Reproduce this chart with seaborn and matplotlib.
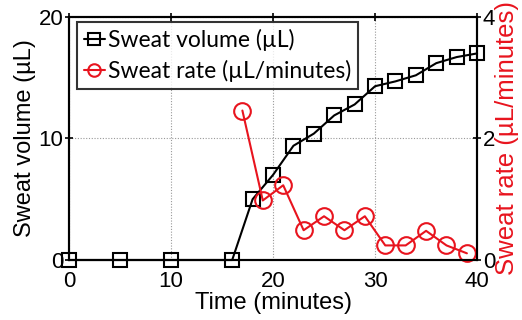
import matplotlib
matplotlib.use("Agg")
import matplotlib.pyplot as plt
import seaborn as sns
import pandas as pd

vol_time = [0, 5, 10, 16, 18, 20, 22, 24, 26, 28, 30, 32, 34, 36, 38, 40]
vol_vals = [0, 0, 0, 0, 5.0, 7.0, 9.4, 10.4, 11.9, 12.8, 14.3, 14.7, 15.2, 16.2, 16.7, 17.0]
rate_time = [17, 19, 21, 23, 25, 27, 29, 31, 33, 35, 37, 39]
rate_vals = [2.46, 0.98, 1.23, 0.49, 0.72, 0.49, 0.72, 0.24, 0.24, 0.48, 0.24, 0.11]

sns.set_style("white")
plt.rcParams['font.family'] = ['Liberation Sans', 'DejaVu Sans']
plt.rcParams['text.color'] = 'black'
plt.rcParams['axes.labelcolor'] = 'black'
plt.rcParams['xtick.color'] = 'black'
plt.rcParams['ytick.color'] = 'black'

fig = plt.figure(figsize=(5.22, 3.2), dpi=100)
ax = fig.add_axes([0.132, 0.1875, 0.782, 0.7595])
ax2 = ax.twinx()

dv = pd.DataFrame({"t": vol_time, "v": vol_vals})
dr = pd.DataFrame({"t": rate_time, "r": rate_vals})

red = "#e8141e"
sns.lineplot(data=dv, x="t", y="v", ax=ax, color="black", marker="s", markersize=10,
             markerfacecolor="none", markeredgecolor="black", markeredgewidth=1.5,
             linewidth=1.5, clip_on=False, label="Sweat volume (µL)", legend=False, zorder=5)
sns.lineplot(data=dr, x="t", y="r", ax=ax2, color=red, marker="o", markersize=12,
             markerfacecolor="none", markeredgecolor=red, markeredgewidth=1.5,
             linewidth=1.5, clip_on=False, label="Sweat rate (µL/minutes)", legend=False)

ax.set_xlim(0, 40)
ax.set_ylim(0, 20)
ax2.set_ylim(0, 4)
ax.set_xticks([0, 10, 20, 30, 40])
ax.set_yticks([0, 10, 20])
ax2.set_yticks([0, 2, 4])

ax.grid(True, linestyle=(0, (1, 1.5)), color="#999999", linewidth=0.8)
ax2.grid(False)

for a in (ax, ax2):
    for s in a.spines.values():
        s.set_color("black")
        s.set_linewidth(1.5)
ax.tick_params(axis="y", direction="inout", length=6, width=1.2, labelsize=16, pad=1)
ax.tick_params(axis="x", direction="inout", length=6, width=1.2, labelsize=16,
               top=True, pad=5)
ax2.tick_params(axis="y", direction="inout", length=6, width=1.2, labelsize=16, pad=1)

ax.set_xlabel("Time (minutes)", fontsize=17, labelpad=0)
ax.set_ylabel("Sweat volume (µL)", fontsize=17, labelpad=2)
ax2.set_ylabel("Sweat rate (µL/minutes)", fontsize=18.5, color=red, labelpad=0)

h1, l1 = ax.get_legend_handles_labels()
h2, l2 = ax2.get_legend_handles_labels()
leg = ax2.legend(h1 + h2, l1 + l2, loc="upper left", bbox_to_anchor=(0.02, 0.98),
                 frameon=True, fancybox=False, edgecolor="black",
                 handlelength=0.9, handletextpad=0.15, borderpad=0.3, labelspacing=0.4,
                 borderaxespad=0, prop={"family": "Lato", "size": 16.5})
leg.get_frame().set_linewidth(1.5)
for h in leg.legend_handles:
    h.set_markersize(9)

fig.savefig("out.png", dpi=100)
